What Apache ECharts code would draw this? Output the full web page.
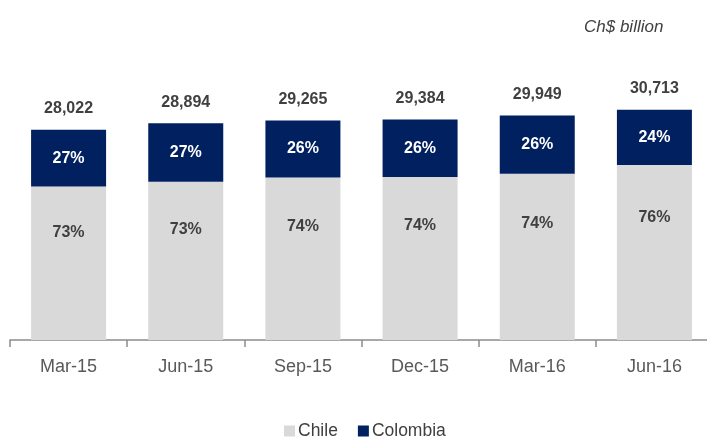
<!DOCTYPE html>
<html>
<head>
<meta charset="utf-8">
<script src="https://cdn.jsdelivr.net/npm/echarts@6/dist/echarts.min.js"></script>
<style>
  html, body { margin: 0; padding: 0; background: #ffffff; overflow: hidden; }
  /* the plot runs slightly past the right edge, so the canvas is a little wider than the window */
  #chart { width: 720px; height: 437px; }
</style>
</head>
<body>
<div id="chart"></div>
<script>
// Loan portfolio by country, Ch$ billion
const quarters = ['Mar-15', 'Jun-15', 'Sep-15', 'Dec-15', 'Mar-16', 'Jun-16'];
const totals = [28022, 28894, 29265, 29384, 29949, 30713];
const chilePct = [73, 73, 74, 74, 74, 76];
const colombiaPct = [27, 27, 26, 26, 26, 24];

const chileValues = totals.map((t, i) => t * chilePct[i] / 100);
const colombiaValues = totals.map((t, i) => t * colombiaPct[i] / 100);

const sans = '"Liberation Sans", Arial, sans-serif';
const textGray = '#404040';

const chart = echarts.init(document.getElementById('chart'));
chart.setOption({
  animation: false,
  backgroundColor: '#ffffff',
  title: {
    text: 'Ch$ billion',
    left: 579,
    top: 14,
    textStyle: {
      fontFamily: sans,
      fontStyle: 'italic',
      fontWeight: 'normal',
      fontSize: 17,
      color: textGray
    }
  },
  legend: {
    data: ['Chile', 'Colombia'],
    top: 417,
    left: 279,
    icon: 'rect',
    itemWidth: 11,
    itemHeight: 11,
    itemGap: 20,
    textStyle: { fontFamily: sans, fontSize: 17.5, color: textGray, padding: [0, 0, 0, -2] }
  },
  grid: { left: 10, top: 40, width: 703, height: 300, containLabel: false },
  xAxis: {
    type: 'category',
    data: quarters,
    axisLine: { show: true, lineStyle: { color: '#8c8c8c', width: 1.5 } },
    axisTick: { show: true, length: 7, lineStyle: { color: '#8c8c8c', width: 1.5 } },
    axisLabel: { fontFamily: sans, fontSize: 18, color: '#595959', margin: 18 }
  },
  yAxis: {
    type: 'value',
    min: 0,
    max: 40000,
    show: false,
    splitLine: { show: false }
  },
  series: [
    {
      name: 'Chile',
      type: 'bar',
      stack: 'loans',
      barWidth: 75,
      data: chileValues,
      itemStyle: { color: '#d9d9d9' },
      label: {
        show: true,
        position: ['50%', '30%'],
        align: 'center',
        verticalAlign: 'middle',
        formatter: p => chilePct[p.dataIndex] + '%',
        fontFamily: sans,
        fontWeight: 'bold',
        fontSize: 16,
        color: textGray
      }
    },
    {
      name: 'Colombia',
      type: 'bar',
      stack: 'loans',
      barWidth: 75,
      data: colombiaValues,
      itemStyle: { color: '#002060' },
      label: {
        show: true,
        position: 'inside',
        formatter: p => colombiaPct[p.dataIndex] + '%',
        fontFamily: sans,
        fontWeight: 'bold',
        fontSize: 16,
        color: '#ffffff'
      }
    },
    {
      // Totals drawn above each stack
      name: 'Total',
      type: 'bar',
      barWidth: 75,
      barGap: '-100%',
      data: totals,
      itemStyle: { color: 'rgba(0,0,0,0)' },
      silent: true,
      z: 1,
      label: {
        show: true,
        position: 'top',
        distance: 13,
        formatter: p => p.value.toLocaleString('en-US'),
        fontFamily: sans,
        fontWeight: 'bold',
        fontSize: 16,
        color: textGray
      }
    }
  ]
});
</script>
</body>
</html>
